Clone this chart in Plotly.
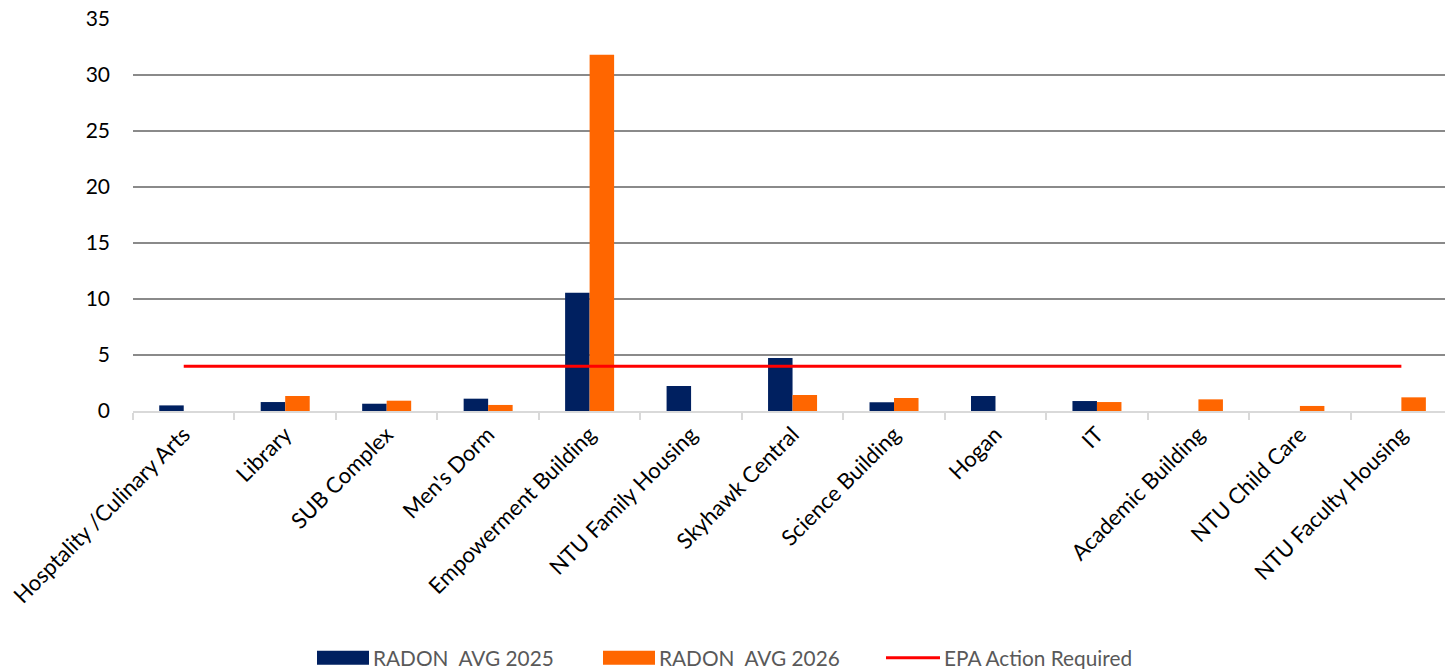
import plotly.graph_objects as go

categories = ["Hosptality /Culinary Arts", "Library", "SUB Complex", "Men's Dorm",
              "Empowerment Building", "NTU Family Housing", "Skyhawk Central",
              "Science Building", "Hogan", "IT", "Academic Building",
              "NTU Child Care", "NTU Faculty Housing"]
radon_2025 = [0.5, 0.8, 0.65, 1.1, 10.55, 2.23, 4.73, 0.78, 1.34, 0.89, None, None, None]
radon_2026 = [None, 1.34, 0.92, 0.54, 31.8, None, 1.43, 1.16, None, 0.8, 1.04, 0.45, 1.22]
epa_action = [4, 4, 4, 4, 4, 4, 4, 4, 4, 4, 4, 4, 4]
y_ticks = [0, 5, 10, 15, 20, 25, 30, 35]

NAVY = "#002060"
ORANGE = "#FF6600"
RED = "#FF0000"
FONT = "Lato"

fig = go.Figure()
fig.add_trace(go.Bar(x=categories, y=radon_2025, name="RADON  AVG 2025",
                     marker=dict(color=NAVY, line=dict(width=0))))
fig.add_trace(go.Bar(x=categories, y=radon_2026, name="RADON  AVG 2026",
                     marker=dict(color=ORANGE, line=dict(width=0))))
fig.add_trace(go.Scatter(x=categories, y=epa_action, name="EPA Action Required",
                         mode="lines", line=dict(color=RED, width=3)))

PL, PW, PB, PH = 133, 1312, 411, 392.3

fig.update_layout(
    width=1445, height=669,
    margin=dict(l=PL, r=0, t=18.7, b=258),
    plot_bgcolor="white", paper_bgcolor="white",
    barmode="group", bargap=0.517, bargroupgap=0,
    showlegend=False,
    font=dict(family=FONT, size=21, color="#000000"),
    xaxis=dict(
        type="category", range=[-0.5, 12.43],
        tickangle=-45, tickson="boundaries", ticks="outside", ticklen=7,
        tickcolor="#d9d9d9", tickwidth=2,
        showline=True, linecolor="#d9d9d9", linewidth=2,
        showgrid=False, tickfont=dict(family=FONT, size=22, color="#000000"),
    ),
    yaxis=dict(
        range=[0, 35], tickvals=y_ticks, showgrid=True, gridcolor="#8a8a8a",
        gridwidth=1.5, zeroline=False, showline=False,
        ticklabelstandoff=22, tickfont=dict(family=FONT, size=21, color="#000000"),
    ),
)

# custom legend (layout decorations)
items = [(317, 369, NAVY, "RADON  AVG 2025", "box"),
         (603, 655, ORANGE, "RADON  AVG 2026", "box"),
         (886, 940, RED, "EPA Action Required", "line")]
for x0, x1, col, text, kind in items:
    if kind == "box":
        fig.add_shape(type="rect", xref="paper", yref="paper",
                      x0=(x0 - PL) / PW, x1=(x1 - PL) / PW,
                      y0=(PB - 665) / PH, y1=(PB - 651) / PH,
                      fillcolor=col, line=dict(width=0))
    else:
        fig.add_shape(type="line", xref="paper", yref="paper",
                      x0=(x0 - PL) / PW, x1=(x1 - PL) / PW,
                      y0=(PB - 658) / PH, y1=(PB - 658) / PH,
                      line=dict(color=col, width=3))
    fig.add_annotation(xref="paper", yref="paper",
                       x=(x1 + 2 - PL) / PW, y=(PB - 658) / PH,
                       text=text, showarrow=False, xanchor="left", yanchor="middle",
                       font=dict(family=FONT, size=20.8, color="#595959"))

fig.write_html("out.html")
